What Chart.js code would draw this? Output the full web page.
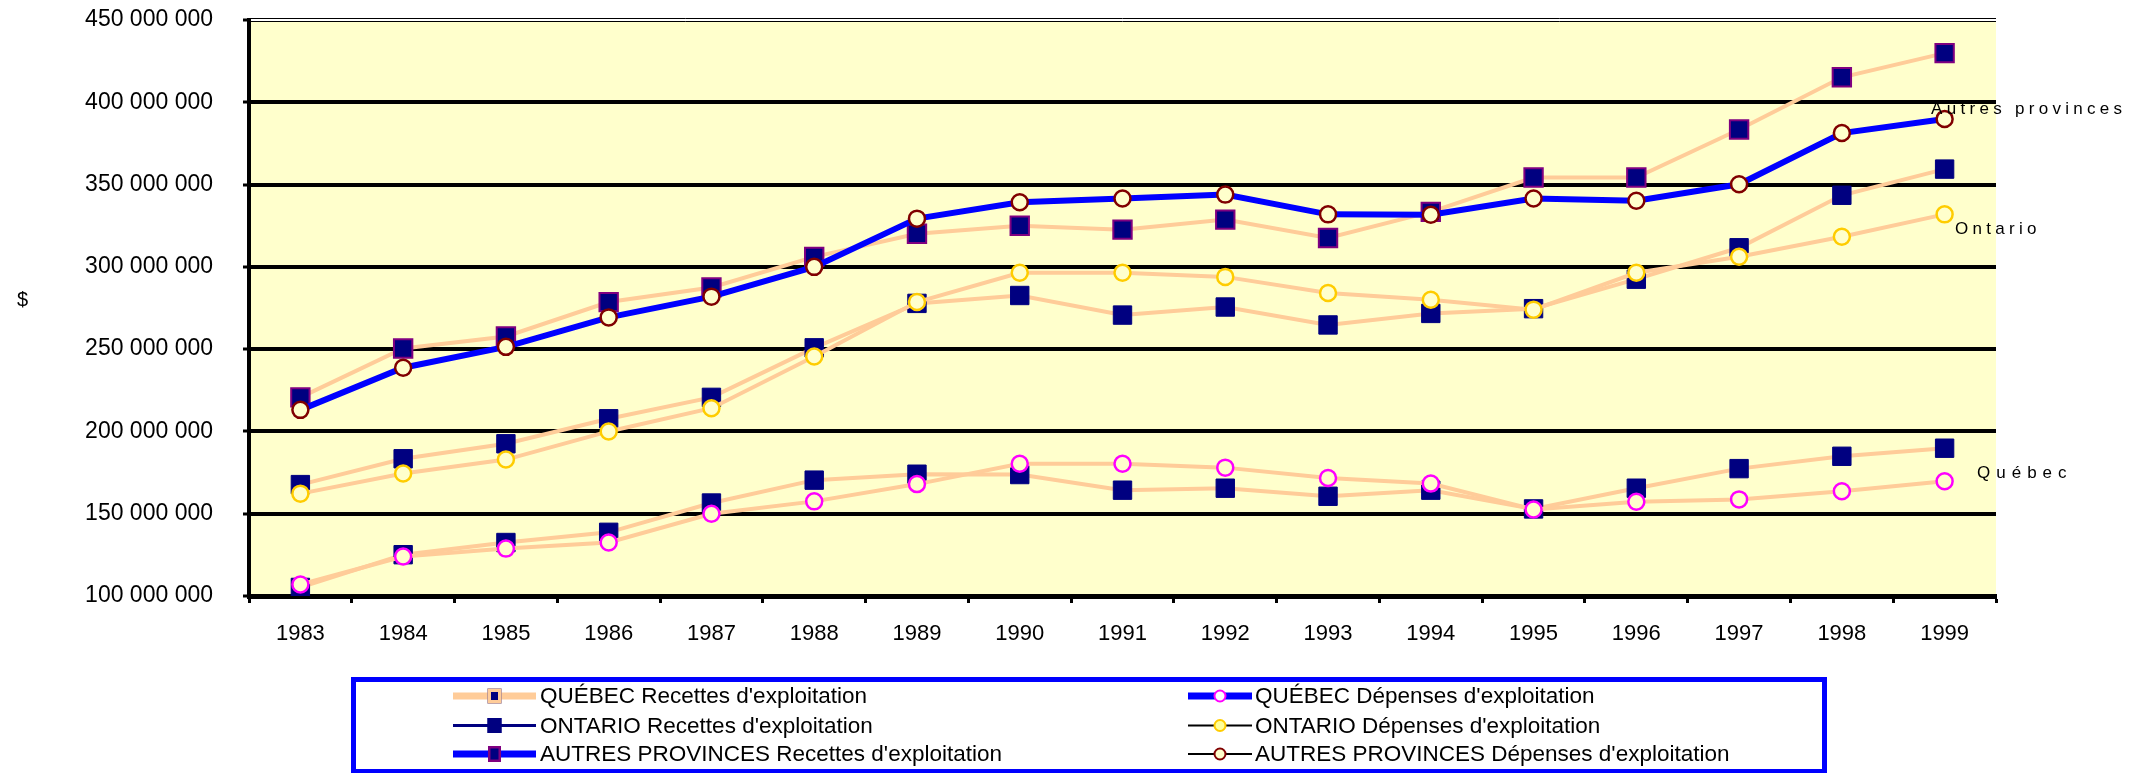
<!DOCTYPE html>
<html>
<head>
<meta charset="utf-8">
<script src="https://cdn.jsdelivr.net/npm/chart.js@4.4.1/dist/chart.umd.min.js"></script>
<style>
  html, body { margin: 0; padding: 0; background: #ffffff; }
  #wrap { width: 2135px; height: 773px; position: relative; }
  canvas { display: block; }
</style>
</head>
<body>
<div id="wrap"><canvas id="c" width="2135" height="773"></canvas></div>
<script>
// ---- Data ----
const years = ['1983','1984','1985','1986','1987','1988','1989','1990','1991','1992','1993','1994','1995','1996','1997','1998','1999'];

const quebecRecettes  = [105200000,125100000,132500000,138700000,156500000,170400000,174000000,173800000,164300000,165500000,160600000,164300000,152900000,165500000,177400000,184900000,189800000];
const quebecDepenses  = [107000000,124000000,128800000,132500000,150000000,157500000,168000000,180400000,180400000,178000000,171700000,168300000,152600000,157300000,158700000,163600000,169700000];
const ontarioRecettes = [167700000,183400000,192500000,207700000,220700000,250800000,277800000,282600000,270700000,275600000,264700000,271700000,274600000,292500000,311600000,343500000,359400000];
const ontarioDepenses = [162200000,174400000,182900000,200000000,214100000,245500000,278600000,296400000,296400000,293900000,284100000,280000000,274000000,296400000,306100000,318300000,331900000];
const autresRecettes  = [220700000,250400000,257700000,278600000,287500000,306100000,320100000,325000000,322600000,328700000,317500000,333400000,354300000,354300000,383500000,415200000,429900000];
const autresDepenses  = [213100000,238700000,251400000,269300000,281900000,300000000,329300000,339300000,341500000,343900000,331900000,331700000,341500000,340200000,350200000,381300000,389900000];

const seriesNames = [
  "QUÉBEC Recettes d'exploitation",
  "QUÉBEC Dépenses d'exploitation",
  "ONTARIO Recettes d'exploitation",
  "ONTARIO Dépenses d'exploitation",
  "AUTRES PROVINCES Recettes d'exploitation",
  "AUTRES PROVINCES Dépenses d'exploitation"
];

const yMin = 100000000;
const yMax = 450000000;
const yStep = 50000000;
const sideLabels = ['Autres provinces', 'Ontario', 'Québec'];
const yAxisLabel = '$';

// ---- Styles ----
const FONT = '"Liberation Sans", Arial, Helvetica, sans-serif';
const CREAM = '#FFFFCC';
const PEACH = '#FFCC99';
const NAVY = '#000080';
const BLUE = '#0000FF';

Chart.defaults.font.family = FONT;
Chart.defaults.color = '#000000';

function fmt(v) {
  return String(v).replace(/\B(?=(\d{3})+(?!\d))/g, ' ');
}

const squareStyle = (border, bw) => ({
  pointStyle: 'rect', pointRadius: 13, pointHoverRadius: 13,
  pointBackgroundColor: NAVY, pointBorderColor: border, pointBorderWidth: bw
});
const circleStyle = (border) => ({
  pointStyle: 'circle', pointRadius: 8, pointHoverRadius: 8,
  pointBackgroundColor: CREAM, pointBorderColor: border, pointBorderWidth: 2.5
});

const datasets = [
  Object.assign({ label: seriesNames[5], data: autresDepenses, borderColor: BLUE, borderWidth: 6, order: 0 }, circleStyle('#800000')),
  Object.assign({ label: seriesNames[3], data: ontarioDepenses, borderColor: PEACH, borderWidth: 4, order: 1 }, circleStyle('#FFCC00')),
  Object.assign({ label: seriesNames[1], data: quebecDepenses, borderColor: PEACH, borderWidth: 4, order: 2 }, circleStyle('#FF00FF')),
  Object.assign({ label: seriesNames[4], data: autresRecettes, borderColor: PEACH, borderWidth: 4, order: 3 }, squareStyle('#800080', 2)),
  Object.assign({ label: seriesNames[2], data: ontarioRecettes, borderColor: PEACH, borderWidth: 4, order: 4 }, squareStyle(NAVY, 1)),
  Object.assign({ label: seriesNames[0], data: quebecRecettes, borderColor: PEACH, borderWidth: 4, order: 5 }, squareStyle(NAVY, 1))
];
datasets.forEach(d => { d.tension = 0; d.fill = false; });

// Legend items (style of each symbol as in the reference legend)
const legendItems = [
  { name: seriesNames[0], col: 0, row: 0, line: { color: PEACH, width: 7 }, mk: { type: 'rect', fill: NAVY, stroke: PEACH, sw: 3.5, w: 14, h: 15 } },
  { name: seriesNames[1], col: 1, row: 0, line: { color: BLUE, width: 7 }, mk: { type: 'circle', fill: '#FFFFFF', stroke: '#FF00FF', sw: 2, r: 5.5 } },
  { name: seriesNames[2], col: 0, row: 1, line: { color: NAVY, width: 3 }, mk: { type: 'rect', fill: NAVY, stroke: NAVY, sw: 1, w: 14, h: 15 } },
  { name: seriesNames[3], col: 1, row: 1, line: { color: '#000000', width: 2 }, mk: { type: 'circle', fill: '#FFFF99', stroke: '#FFCC00', sw: 2, r: 5.5 } },
  { name: seriesNames[4], col: 0, row: 2, line: { color: BLUE, width: 7 }, mk: { type: 'rect', fill: NAVY, stroke: '#800080', sw: 2.5, w: 13, h: 16 } },
  { name: seriesNames[5], col: 1, row: 2, line: { color: '#000000', width: 2 }, mk: { type: 'circle', fill: CREAM, stroke: '#800000', sw: 2, r: 5.5 } }
];

const decorPlugin = {
  id: 'decor',
  beforeDraw(chart) {
    const { ctx, chartArea: a } = chart;
    ctx.save();
    ctx.fillStyle = CREAM;
    ctx.fillRect(a.left, a.top + 2, a.right - a.left, a.bottom - a.top - 2);
    ctx.restore();
  },
  afterDraw(chart) {
    const { ctx, chartArea: a } = chart;
    ctx.save();
    // double line at the top of the plot
    ctx.strokeStyle = '#000000';
    ctx.lineWidth = 1;
    ctx.beginPath();
    ctx.moveTo(a.left, a.top - 1.5); ctx.lineTo(a.right, a.top - 1.5);
    ctx.moveTo(a.left, a.top + 1.5); ctx.lineTo(a.right, a.top + 1.5);
    ctx.stroke();

    // axis title "$"
    ctx.fillStyle = '#000000';
    ctx.font = '20px ' + FONT;
    ctx.textAlign = 'center';
    ctx.textBaseline = 'middle';
    ctx.fillText(yAxisLabel, 22.5, 300);

    // side labels
    ctx.font = '17px ' + FONT;
    ctx.textAlign = 'left';
    ctx.letterSpacing = '4.3px';
    ctx.fillText(sideLabels[0], 1931, 109);
    ctx.fillText(sideLabels[1], 1955, 229);
    ctx.letterSpacing = '6px';
    ctx.fillText(sideLabels[2], 1977, 473);
    ctx.letterSpacing = '0px';

    // legend box
    ctx.strokeStyle = BLUE;
    ctx.lineWidth = 5;
    ctx.strokeRect(353.5, 679.5, 1471, 92);

    const colX = [{ x0: 453, x1: 536, tx: 540 }, { x0: 1188, x1: 1252, tx: 1255 }];
    const rowY = [696, 725.5, 754];
    ctx.font = '22.5px ' + FONT;
    ctx.textBaseline = 'middle';
    legendItems.forEach(it => {
      const c = colX[it.col], y = rowY[it.row];
      ctx.strokeStyle = it.line.color;
      ctx.lineWidth = it.line.width;
      ctx.lineCap = 'butt';
      ctx.beginPath(); ctx.moveTo(c.x0, y); ctx.lineTo(c.x1, y); ctx.stroke();
      const mx = (c.x0 + c.x1) / 2;
      const m = it.mk;
      if (m.type === 'rect') {
        ctx.fillStyle = m.fill;
        ctx.fillRect(mx - m.w / 2, y - m.h / 2, m.w, m.h);
        ctx.strokeStyle = m.stroke; ctx.lineWidth = m.sw;
        ctx.strokeRect(mx - m.w / 2 + m.sw / 2, y - m.h / 2 + m.sw / 2, m.w - m.sw, m.h - m.sw);
      } else {
        ctx.beginPath(); ctx.arc(mx, y, m.r, 0, Math.PI * 2);
        ctx.fillStyle = m.fill; ctx.fill();
        ctx.strokeStyle = m.stroke; ctx.lineWidth = m.sw; ctx.stroke();
      }
      ctx.fillStyle = '#000000';
      ctx.fillText(it.name, c.tx, y + 1);
    });
    ctx.restore();
  }
};

new Chart(document.getElementById('c'), {
  type: 'line',
  data: { labels: years, datasets },
  options: {
    responsive: false,
    maintainAspectRatio: false,
    animation: false,
    devicePixelRatio: 1,
    layout: { autoPadding: false, padding: { left: 0, top: 20, right: 139, bottom: 0 } },
    plugins: { legend: { display: false }, tooltip: { enabled: false } },
    scales: {
      x: {
        type: 'category',
        offset: true,
        afterFit(scale) { scale.height = 177; scale.paddingLeft = 0; scale.paddingRight = 0; },
        grid: { offset: true, drawOnChartArea: false, drawTicks: true, tickLength: 7, tickWidth: 3, tickColor: '#000000' },
        border: { display: true, width: 5, color: '#000000' },
        ticks: { font: { size: 22 }, padding: 18, maxRotation: 0, autoSkip: false, color: '#000000' }
      },
      y: {
        min: yMin, max: yMax,
        afterFit(scale) { scale.width = 249; scale.paddingTop = 0; scale.paddingBottom = 0; },
        grid: {
          color: (c) => (c.tick && c.tick.value === yMax) ? 'rgba(0,0,0,0)' : '#000000',
          lineWidth: 4,
          drawTicks: true, tickLength: 6, tickWidth: 3, tickColor: '#000000'
        },
        border: { display: true, width: 4, color: '#000000' },
        ticks: { stepSize: yStep, font: { size: 23 }, padding: 30, color: '#000000', callback: (v) => fmt(v) }
      }
    }
  },
  plugins: [decorPlugin]
});
</script>
</body>
</html>
